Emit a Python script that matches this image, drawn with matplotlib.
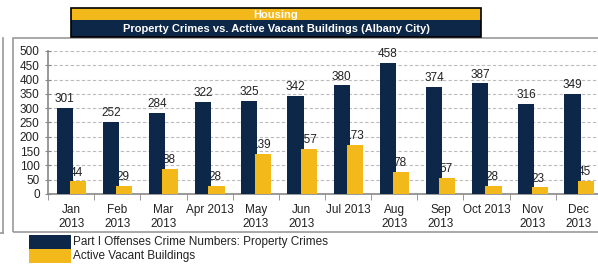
import numpy as np
import matplotlib
matplotlib.use("Agg")
import matplotlib.pyplot as plt
from matplotlib.patches import Rectangle
from matplotlib.lines import Line2D

plt.rcParams['font.family'] = ['Liberation Sans', 'DejaVu Sans']

months = ["Jan\n2013", "Feb\n2013", "Mar\n2013", "Apr 2013", "May\n2013", "Jun\n2013",
          "Jul 2013", "Aug\n2013", "Sep\n2013", "Oct 2013", "Nov\n2013", "Dec\n2013"]
crimes = [301, 252, 284, 322, 325, 342, 380, 458, 374, 387, 316, 349]
vacant = [44, 29, 88, 28, 139, 157, 173, 78, 57, 28, 23, 45]

navy = "#0d2748"
gold = "#f3b81a"
W, H = 598, 264

fig = plt.figure(figsize=(W / 100, H / 100), dpi=100)

def fx(px):
    return px / W

def fy(py):
    return 1 - py / H

# chart frame and neighbouring panel edge
fig.add_artist(Rectangle((fx(13), fy(232)), fx(700), fy(38) - fy(232),
                         transform=fig.transFigure, fill=False, edgecolor="#999999", lw=1.2))
fig.add_artist(Line2D([fx(3), fx(3)], [fy(38), fy(233)], transform=fig.transFigure, color="#999999", lw=1.2))
fig.add_artist(Line2D([0, fx(3)], [fy(233), fy(233)], transform=fig.transFigure, color="#999999", lw=1.2))

# title block
fig.add_artist(Rectangle((fx(71), fy(20)), fx(410), fy(8) - fy(20),
                         transform=fig.transFigure, facecolor=gold, edgecolor="none"))
fig.add_artist(Rectangle((fx(71), fy(37)), fx(410), fy(20) - fy(37),
                         transform=fig.transFigure, facecolor=navy, edgecolor="none"))
fig.add_artist(Rectangle((fx(71), fy(37)), fx(410), fy(8) - fy(37),
                         transform=fig.transFigure, fill=False, edgecolor="black", lw=1.2))
fig.text(fx(276), fy(14.5), "Housing", color="white", fontsize=8, fontweight="bold",
         ha="center", va="center")
fig.text(fx(276), fy(28.5), "Property Crimes vs. Active Vacant Buildings (Albany City)",
         color="white", fontsize=8, fontweight="bold", ha="center", va="center")

ax = fig.add_axes([fx(48), fy(194), fx(602) - fx(48), fy(51) - fy(194)])
x = np.arange(len(months))
bw = 0.35
ax.bar(x - 0.14, crimes, bw, color=navy, zorder=3)
ax.bar(x + 0.15, vacant, bw, color=gold, zorder=4)

for xi, v in zip(x, crimes):
    ax.annotate(str(v), (xi - 0.14, v), xytext=(0, 2), textcoords="offset points",
                ha="center", va="bottom", fontsize=8.5, color="#222222", clip_on=False, zorder=5)
for xi, v in zip(x, vacant):
    ax.annotate(str(v), (xi + 0.12, v), xytext=(0, 2), textcoords="offset points",
                ha="center", va="bottom", fontsize=8.5, color="#222222", zorder=2)

ax.set_xlim(-0.5, len(months) - 0.5)
ax.set_ylim(0, 500)
ax.set_yticks(range(0, 501, 50))
ax.set_xticks(x)
ax.set_xticklabels(months, fontsize=8.5, color="#222222", linespacing=1.3)
ax.set_xticks(np.arange(-0.5, len(months), 1), minor=True)
ax.tick_params(axis="x", which="major", length=0, pad=7)
ax.tick_params(axis="x", which="minor", length=4, color="#888888", direction="out")
ax.tick_params(axis="y", labelsize=8.5, labelcolor="#222222", length=4, color="#888888",
               direction="inout", pad=4)
ax.grid(axis="y", linestyle=(0, (3, 2)), color="#bbbbbb", lw=0.8, zorder=0)
ax.set_axisbelow(True)
for s in ["top", "right"]:
    ax.spines[s].set_visible(False)
for s in ["left", "bottom"]:
    ax.spines[s].set_color("#888888")
    ax.spines[s].set_linewidth(1.2)

# legend
fig.add_artist(Rectangle((fx(29), fy(249)), fx(42), fy(235) - fy(249),
                         transform=fig.transFigure, facecolor=navy, edgecolor="none"))
fig.add_artist(Rectangle((fx(29), fy(263)), fx(42), fy(249) - fy(263),
                         transform=fig.transFigure, facecolor=gold, edgecolor="none"))
fig.text(fx(73), fy(242), "Part I Offenses Crime Numbers: Property Crimes", fontsize=8.5,
         color="#222222", va="center")
fig.text(fx(73), fy(256), "Active Vacant Buildings", fontsize=8.5, color="#222222", va="center")

fig.savefig("out.png", dpi=100)
